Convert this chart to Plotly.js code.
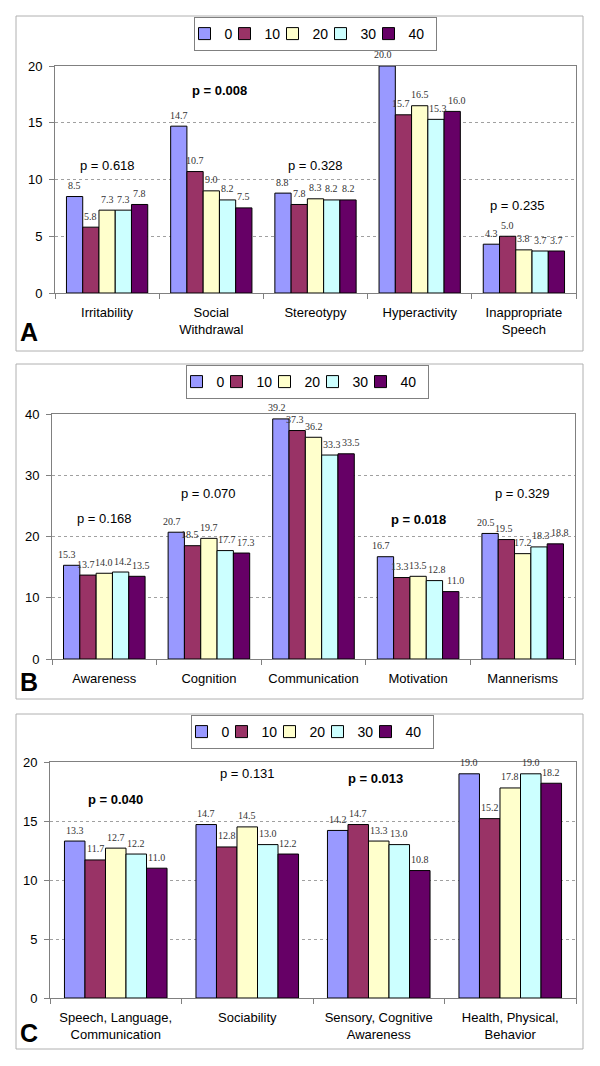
<!DOCTYPE html>
<html><head><meta charset="utf-8">
<script src="https://cdn.plot.ly/plotly-3.0.1.min.js"></script>
<style>html,body{margin:0;padding:0;background:#fff}#chart{width:600px;height:1066px}</style>
</head><body><div id="chart"></div>
<script>
// ---------- data ----------
const seriesNames = ['0', '10', '20', '30', '40'];
const seriesColors = ['#9999FF', '#993366', '#FFFFCC', '#CCFFFF', '#660066'];

// Panel A
const catsA = ['Irritability', 'Social<br>Withdrawal', 'Stereotypy', 'Hyperactivity', 'Inappropriate<br>Speech'];
const a0  = [8.5, 14.7, 8.8, 20.0, 4.3];
const a10 = [5.8, 10.7, 7.8, 15.7, 5.0];
const a20 = [7.3, 9.0, 8.3, 16.5, 3.8];
const a30 = [7.3, 8.2, 8.2, 15.3, 3.7];
const a40 = [7.8, 7.5, 8.2, 16.0, 3.7];
const pA = ['0.618', '0.008', '0.328', '0.187', '0.235'];
const sigA = [false, true, false, false, false];

// Panel B
const catsB = ['Awareness', 'Cognition', 'Communication', 'Motivation', 'Mannerisms'];
const b0  = [15.3, 20.7, 39.2, 16.7, 20.5];
const b10 = [13.7, 18.5, 37.3, 13.3, 19.5];
const b20 = [14.0, 19.7, 36.2, 13.5, 17.2];
const b30 = [14.2, 17.7, 33.3, 12.8, 18.3];
const b40 = [13.5, 17.3, 33.5, 11.0, 18.8];
const pB = ['0.168', '0.070', '0.072', '0.018', '0.329'];
const sigB = [false, false, false, true, false];

// Panel C
const catsC = ['Speech, Language,<br>Communication', 'Sociability', 'Sensory, Cognitive<br>Awareness', 'Health, Physical,<br>Behavior'];
const c0  = [13.3, 14.7, 14.2, 19.0];
const c10 = [11.7, 12.8, 14.7, 15.2];
const c20 = [12.7, 14.5, 13.3, 17.8];
const c30 = [12.2, 13.0, 13.0, 19.0];
const c40 = [11.0, 12.2, 10.8, 18.2];
const pC = ['0.040', '0.131', '0.013', '0.438'];
const sigC = [true, false, true, false];

// ---------- layout placement (not data) ----------
const pPlaceA = {y: [11.2, 17.8, 11.2, 20.8, 7.75], dx: [0, 8, 0, 17, -6]};
const pPlaceB = {y: [22.9, 27.1, 41.8, 22.7, 27.1], dx: [0, 0, 13, 0, 0]};
const pPlaceC = {y: [16.8, 19.0, 18.6, 21.2], dx: [0, 0, -3, 0]};
const legendItemWidth = [5, 13, 13, 13, 22];

// ---------- build ----------
const SANS = 'Liberation Sans, Arial, sans-serif';
const SERIF = 'Liberation Serif, Times New Roman, serif';
const H = 1066, W = 600;
const BARGAP = 0.22;
const LABEL_SIZE = 10;
const LABEL_LIFT = 11;   // px from bar top to label centre
const LABEL_BOX_H = 13;  // approx. text box height

function labelWidth(s) {
  let w = 0;
  for (const ch of s) w += (ch === '.' ? 0.25 : 0.5) * LABEL_SIZE;
  return w;
}

const panels = [
  {cats: catsA, series: [a0, a10, a20, a30, a40], p: pA, sig: sigA, place: pPlaceA, ax: '', leg: 'legend', range: [0, 20], dtick: 5,
   px: [55, 576], py: [66, 293], legX: 315, legY: 17, box: [16, 351], letter: 'A', letterY: 332},
  {cats: catsB, series: [b0, b10, b20, b30, b40], p: pB, sig: sigB, place: pPlaceB, ax: '2', leg: 'legend2', range: [0, 40], dtick: 10,
   px: [52, 575], py: [414, 659], legX: 307, legY: 365, box: [364, 699], letter: 'B', letterY: 682},
  {cats: catsC, series: [c0, c10, c20, c30, c40], p: pC, sig: sigC, place: pPlaceC, ax: '3', leg: 'legend3', range: [0, 20], dtick: 5,
   px: [50, 576], py: [762, 998], legX: 312, legY: 715, box: [714, 1049], letter: 'C', letterY: 1033}
];

const traces = [];
const layout = {
  width: W, height: H,
  margin: {l: 0, r: 0, t: 0, b: 0},
  paper_bgcolor: '#fff', plot_bgcolor: '#fff',
  barmode: 'group', bargap: BARGAP, bargroupgap: 0,
  font: {family: SANS, color: '#000'},
  annotations: [], shapes: []
};

panels.forEach((P) => {
  const xa = 'x' + P.ax, ya = 'y' + P.ax;
  const nS = P.series.length;
  P.series.forEach((vals, si) => {
    const t = {
      type: 'bar', x: P.cats, y: vals, name: seriesNames[si],
      xaxis: xa, yaxis: ya, legend: P.leg, showlegend: true,
      marker: {color: seriesColors[si], line: {color: '#000', width: 1}},
      hoverinfo: 'x+y'
    };
    if (legendItemWidth[si]) t.legendwidth = legendItemWidth[si];
    traces.push(t);
  });
  const xkey = 'xaxis' + P.ax, ykey = 'yaxis' + P.ax;
  layout[xkey] = {
    domain: [P.px[0] / W, P.px[1] / W], anchor: ya,
    showline: true, linecolor: '#808080', linewidth: 1, mirror: true,
    ticks: 'outside', tickson: 'boundaries', ticklen: 5, tickcolor: '#808080',
    tickfont: {family: SANS, size: 13, color: '#000'}, ticklabelstandoff: 7,
    showgrid: false, fixedrange: true
  };
  layout[ykey] = {
    domain: [1 - P.py[1] / H, 1 - P.py[0] / H], anchor: xa,
    range: P.range, dtick: P.dtick, tick0: 0,
    showline: true, linecolor: '#808080', linewidth: 1, mirror: true,
    ticks: 'outside', ticklen: 5, tickcolor: '#808080',
    tickfont: {family: SANS, size: 13, color: '#000'}, ticklabelstandoff: 4,
    showgrid: true, gridcolor: '#a0a0a0', griddash: 'dot', gridwidth: 1,
    zeroline: false, fixedrange: true
  };
  layout[P.leg] = {
    orientation: 'h', x: P.legX / W, xanchor: 'center', y: 1 - P.legY / H, yanchor: 'top',
    bgcolor: '#fff', bordercolor: '#808080', borderwidth: 1,
    font: {family: SANS, size: 14, color: '#000'}, itemwidth: 30, indentation: -10,
    itemclick: false, itemdoubleclick: false
  };

  // value labels above each bar, placed through the category axis and value axis
  const plotW = P.px[1] - P.px[0], plotH = P.py[1] - P.py[0];
  const catW = plotW / P.cats.length;
  const barW = catW * (1 - BARGAP) / nS;
  const scale = plotH / (P.range[1] - P.range[0]);
  P.cats.forEach((cat, ci) => {
    const vs = P.series.map(vals => vals[ci]);
    const txts = vs.map(v => v.toFixed(1));
    const ws = txts.map(labelWidth);
    const cs = vs.map(v => v * scale + LABEL_LIFT);
    // spread the labels of a group sideways when neighbours would collide
    let spacing = barW;
    for (let i = 1; i < nS; i++) {
      const need = (ws[i] + ws[i - 1]) / 2 + 1;
      if (Math.abs(cs[i] - cs[i - 1]) < LABEL_BOX_H && need > spacing) spacing = need;
    }
    vs.forEach((v, si) => {
      layout.annotations.push({
        xref: xa, yref: ya, x: cat, y: v,
        xshift: (si - (nS - 1) / 2) * spacing, yshift: LABEL_LIFT,
        text: txts[si], showarrow: false,
        font: {family: SERIF, size: LABEL_SIZE, color: '#333'},
        xanchor: 'center', yanchor: 'middle', borderpad: 0
      });
    });
  });

  P.p.forEach((pv, ci) => {
    layout.annotations.push({
      xref: xa, yref: ya, x: P.cats[ci], y: P.place.y[ci], xshift: P.place.dx[ci],
      text: P.sig[ci] ? '<b>p = ' + pv + '</b>' : 'p = ' + pv,
      showarrow: false, font: {family: SANS, size: 13, color: '#000'},
      xanchor: 'center', yanchor: 'middle'
    });
  });
  layout.annotations.push({
    xref: 'paper', yref: 'paper', x: 29 / W, y: 1 - P.letterY / H,
    text: '<b>' + P.letter + '</b>', showarrow: false,
    font: {family: SANS, size: 25, color: '#000'}, xanchor: 'center', yanchor: 'middle'
  });
  layout.shapes.push({
    type: 'rect', xref: 'paper', yref: 'paper',
    x0: 16 / W, x1: 583 / W, y0: 1 - P.box[1] / H, y1: 1 - P.box[0] / H,
    line: {color: '#b0b0b0', width: 1}, fillcolor: 'rgba(0,0,0,0)', layer: 'below'
  });
});

Plotly.newPlot('chart', traces, layout, {displayModeBar: false, staticPlot: true});
</script>
</body></html>
